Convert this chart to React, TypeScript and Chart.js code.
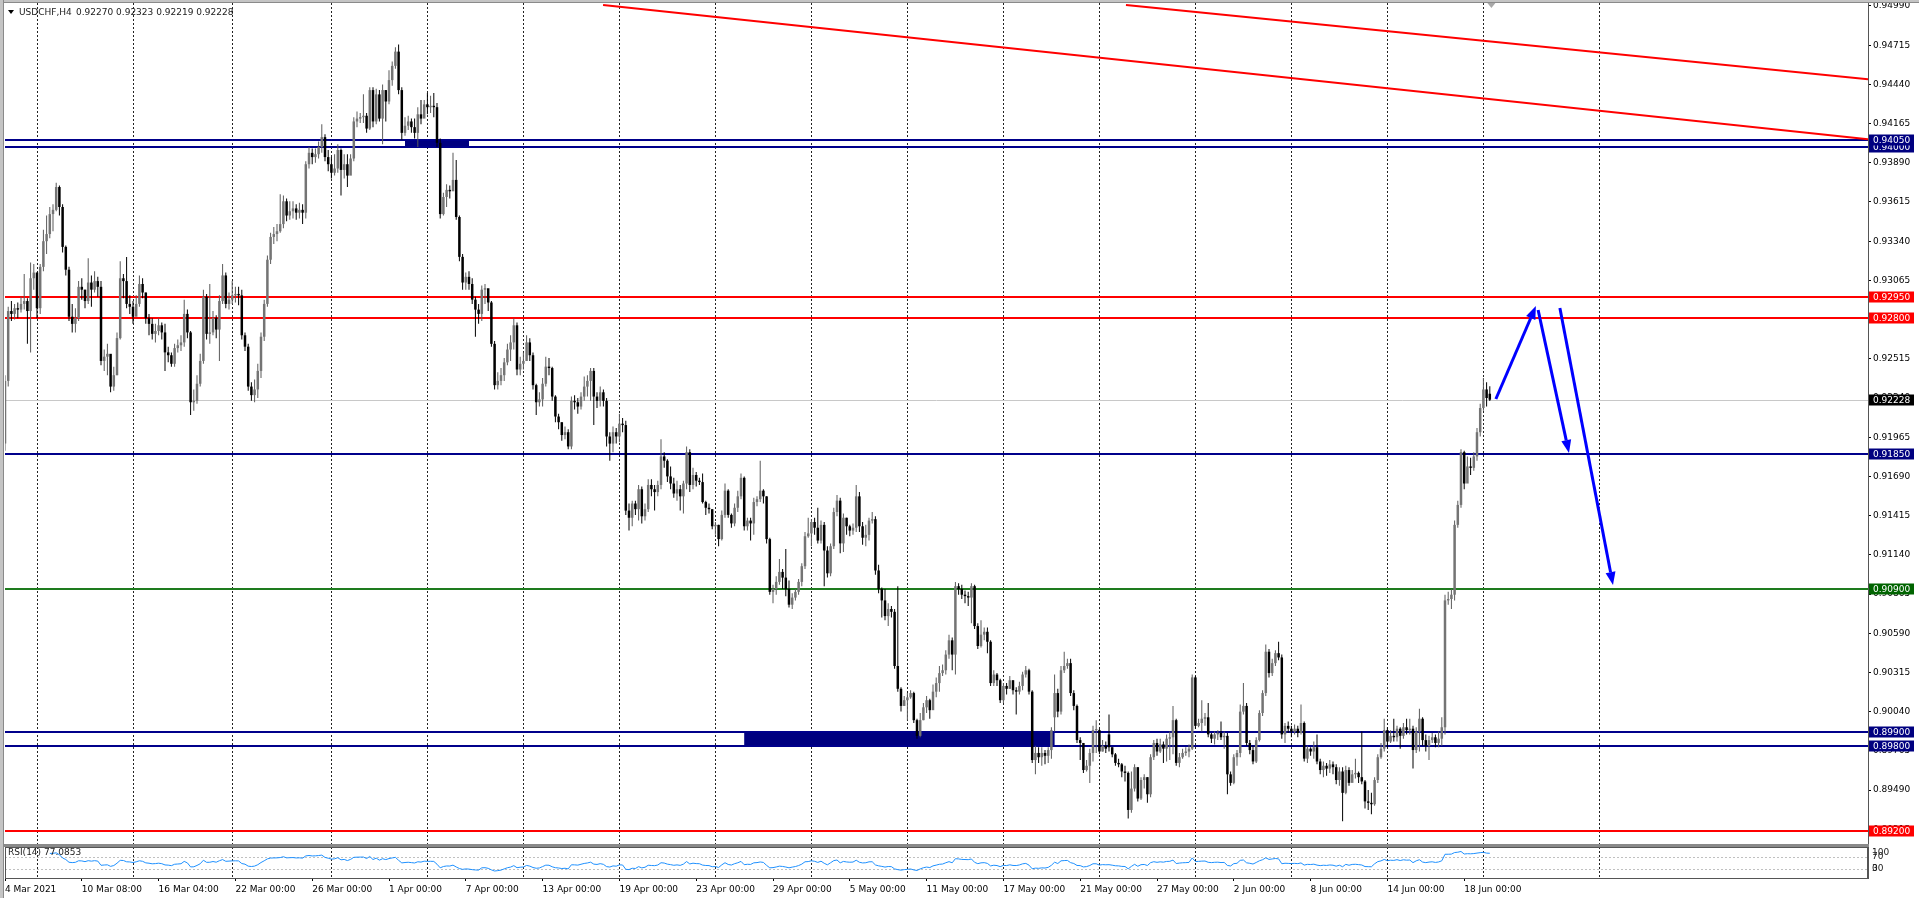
import React, { useEffect, useRef } from "react";
import { Chart, registerables } from "chart.js";
Chart.register(...registerables);

const FONT = '"DejaVu Sans", sans-serif';

const symbolTitle = "USDCHF,H4";
const lastQuotes = ["0.92270", "0.92323", "0.92219", "0.92228"];
const rsiTitle = "RSI(14) 77.0853";
const rsiPeriod = 14;

const xLabelBars = [0, 24, 48, 72, 96, 120, 144, 168, 192, 216, 240, 264, 288, 312, 336, 360, 384, 408, 432, 456];
const xLabels = ["4 Mar 2021", "10 Mar 08:00", "16 Mar 04:00", "22 Mar 00:00", "26 Mar 00:00", "1 Apr 00:00", "7 Apr 00:00", "13 Apr 00:00", "19 Apr 00:00", "23 Apr 00:00", "29 Apr 00:00", "5 May 00:00", "11 May 00:00", "17 May 00:00", "21 May 00:00", "27 May 00:00", "2 Jun 00:00", "8 Jun 00:00", "14 Jun 00:00", "18 Jun 00:00"];
const gridBars = [10, 40, 71, 102, 132, 162, 192, 222, 252, 282, 312, 342, 372, 402, 432, 462, 498];
const yTicks = [0.9499, 0.94715, 0.9444, 0.94165, 0.9389, 0.93615, 0.9334, 0.93065, 0.9279, 0.92515, 0.9224, 0.91965, 0.9169, 0.91415, 0.9114, 0.90865, 0.9059, 0.90315, 0.9004, 0.89765, 0.8949, 0.89215];

// prices in pips (x 0.0001)
const opens = [
9192,9236,9285,9283,9287,9286,9290,9292,9285,9308,
9312,9287,9316,9334,9339,9353,9356,9372,9358,9330,
9314,9281,9276,9280,9302,9300,9292,9305,9300,9306,
9302,9250,9253,9255,9232,9240,9266,9308,9306,9290,
9288,9281,9290,9304,9298,9280,9276,9269,9271,9275,
9270,9256,9254,9248,9259,9261,9263,9283,9270,9221,
9222,9234,9250,9295,9269,9270,9280,9272,9292,9310,
9290,9293,9296,9297,9296,9268,9260,9232,9226,9230,
9243,9267,9290,9321,9337,9339,9341,9346,9362,9352,
9355,9357,9354,9356,9354,9388,9396,9393,9395,9400,
9407,9393,9388,9382,9385,9398,9384,9388,9380,9392,
9418,9420,9421,9422,9413,9440,9418,9437,9420,9440,
9432,9447,9457,9467,9440,9410,9415,9418,9414,9410,
9423,9420,9430,9428,9429,9428,9403,9353,9365,9370,
9369,9377,9351,9323,9305,9309,9304,9293,9286,9283,
9300,9301,9291,9262,9233,9236,9240,9249,9258,9263,
9275,9244,9248,9250,9263,9254,9233,9221,9223,9234,
9246,9245,9225,9211,9207,9198,9200,9190,9222,9221,
9218,9225,9232,9236,9243,9225,9222,9228,9222,9197,
9192,9200,9197,9206,9205,9145,9140,9150,9146,9160,
9141,9146,9163,9160,9158,9163,9183,9180,9169,9164,
9157,9160,9155,9164,9186,9163,9170,9166,9165,9151,
9147,9146,9134,9135,9125,9142,9159,9142,9136,9147,
9155,9168,9134,9138,9136,9151,9153,9159,9155,9125,
9088,9090,9095,9102,9098,9090,9079,9084,9088,9095,
9106,9127,9129,9137,9133,9124,9135,9117,9101,9120,
9144,9152,9122,9140,9134,9131,9133,9155,9134,9126,
9128,9138,9139,9103,9090,9082,9071,9076,9074,9036,
9020,9008,9012,9014,9017,8998,8987,8998,9007,9012,
9005,9018,9024,9031,9033,9044,9054,9044,9092,9090,
9086,9085,9084,9092,9064,9050,9058,9060,9053,9024,
9030,9026,9012,9022,9020,9026,9019,9018,9022,9030,
9033,9018,8970,8975,8972,8975,8973,8977,9000,9017,
9004,9033,9036,9038,9017,9008,8984,8982,8963,8966,
8975,8991,8991,8976,8980,8988,8979,8974,8968,8967,
8962,8961,8935,8950,8965,8943,8956,8958,8946,8972,
8982,8976,8981,8978,8985,8986,8998,8968,8972,8975,
8976,8978,9028,8994,8996,8999,9000,8988,8985,8988,
8989,8986,8987,8960,8954,8972,8975,9004,9008,8982,
8977,8969,8984,9003,9017,9046,9031,9038,9045,9042,
8988,8994,8992,8990,8992,8989,8996,8971,8978,8976,
8979,8969,8963,8966,8964,8967,8965,8956,8962,8947,
8963,8954,8960,8961,8958,8955,8941,8940,8939,8956,
8972,8978,8991,8983,8987,8986,8992,8987,8993,8991,
8992,8977,8990,8999,8984,8980,8984,8986,8982,8985,
8993,9082,9083,9086,9135,9149,9186,9164,9176,9175,
9183,9200,9217,9230,9227
];
const highs = [
9240,9288,9292,9290,9291,9295,9311,9294,9319,9318,
9312,9318,9342,9352,9358,9360,9375,9373,9360,9331,
9316,9290,9287,9306,9308,9300,9322,9310,9313,9309,
9306,9258,9262,9254,9246,9270,9320,9311,9323,9296,
9292,9296,9310,9308,9298,9283,9280,9276,9280,9277,
9276,9260,9256,9262,9265,9268,9293,9286,9271,9230,
9240,9255,9300,9297,9304,9285,9282,9296,9318,9312,
9298,9306,9302,9302,9300,9270,9262,9235,9237,9248,
9270,9293,9324,9340,9344,9346,9367,9366,9364,9362,
9362,9360,9361,9360,9390,9400,9399,9399,9404,9416,
9409,9398,9393,9395,9402,9399,9395,9395,9395,9421,
9425,9424,9437,9424,9442,9442,9441,9440,9444,9440,
9454,9460,9470,9472,9442,9421,9422,9420,9420,9428,
9433,9433,9438,9436,9438,9431,9406,9368,9374,9373,
9396,9391,9352,9325,9312,9313,9308,9295,9290,9303,
9304,9300,9292,9264,9242,9245,9252,9262,9268,9280,
9277,9253,9256,9268,9266,9256,9234,9228,9238,9253,
9252,9246,9226,9213,9207,9204,9202,9225,9226,9224,
9228,9239,9240,9245,9245,9228,9232,9230,9224,9200,
9204,9203,9213,9210,9208,9150,9152,9152,9163,9162,
9150,9167,9167,9163,9166,9195,9186,9181,9176,9168,
9166,9163,9166,9190,9188,9175,9172,9168,9171,9152,
9150,9146,9137,9135,9145,9164,9160,9143,9150,9159,
9171,9169,9140,9140,9154,9155,9180,9160,9155,9126,
9093,9099,9111,9104,9118,9096,9087,9090,9097,9108,
9130,9140,9139,9140,9147,9138,9137,9120,9122,9147,
9156,9154,9143,9140,9135,9136,9163,9158,9137,9135,
9140,9144,9141,9107,9091,9090,9080,9078,9076,9092,
9021,9015,9017,9019,9018,8999,9003,9010,9015,9013,
9023,9028,9036,9037,9047,9058,9056,9095,9094,9093,
9089,9088,9094,9093,9066,9068,9063,9063,9054,9033,
9031,9027,9024,9024,9029,9026,9021,9025,9032,9036,
9034,9019,8980,8979,8979,8977,8979,8993,9030,9020,
9036,9046,9041,9041,9019,9009,8986,8980,8970,8978,
8994,8998,8992,8984,8983,9002,8979,8975,8971,8968,
8966,8962,8962,8967,8965,8958,8960,8958,8974,8984,
8985,8985,8983,8988,8990,9008,8999,8975,8978,8979,
8981,9030,9029,8999,9012,9003,9010,8989,8990,8991,
8997,8990,8989,8962,8974,8977,9009,9024,9010,8984,
8980,8986,9005,9019,9051,9048,9041,9047,9053,9044,
8996,8997,8994,8995,8994,9009,8997,8980,8979,8983,
8988,8971,8969,8968,8970,8969,8967,8965,8965,8966,
8965,8963,8971,8962,8990,8956,8949,8947,8958,8974,
8982,8999,8993,8991,8999,8994,8993,8996,8999,8999,
8994,8993,9006,9000,8988,8987,8989,8988,8990,9000,
9086,9088,9090,9138,9152,9188,9187,9183,9182,9186,
9203,9220,9238,9235,9232.3
];
const lows = [
9187,9232,9278,9279,9280,9284,9286,9262,9256,9300,
9280,9283,9313,9325,9336,9341,9355,9352,9326,9310,
9278,9270,9270,9278,9293,9287,9290,9288,9298,9295,
9247,9243,9240,9228,9229,9240,9265,9294,9287,9283,
9276,9284,9288,9294,9276,9268,9265,9263,9268,9265,
9243,9249,9246,9246,9256,9257,9260,9266,9212,9215,
9220,9232,9248,9265,9262,9268,9266,9250,9290,9287,
9286,9290,9291,9289,9265,9257,9229,9222,9221,9224,
9238,9264,9288,9318,9332,9334,9340,9343,9348,9349,
9350,9349,9350,9346,9350,9385,9388,9389,9392,9396,
9390,9383,9378,9380,9382,9366,9378,9372,9384,9390,
9414,9417,9417,9410,9412,9414,9416,9418,9402,9418,
9430,9443,9455,9437,9405,9408,9412,9410,9406,9400,
9416,9421,9423,9424,9421,9400,9350,9352,9358,9364,
9370,9349,9320,9300,9300,9300,9290,9267,9276,9278,
9290,9285,9260,9230,9230,9233,9236,9247,9250,9258,
9240,9240,9244,9250,9250,9230,9212,9218,9218,9232,
9240,9222,9207,9202,9194,9195,9188,9188,9216,9213,
9216,9222,9225,9222,9205,9217,9218,9218,9190,9180,
9186,9192,9193,9200,9142,9131,9134,9142,9138,9136,
9138,9144,9155,9145,9155,9160,9175,9165,9160,9154,
9152,9145,9143,9160,9158,9160,9162,9163,9150,9142,
9143,9132,9128,9120,9124,9140,9140,9133,9134,9144,
9153,9131,9131,9124,9128,9148,9151,9150,9122,9086,
9080,9086,9093,9090,9085,9077,9076,9082,9086,9092,
9104,9126,9120,9128,9122,9122,9092,9098,9099,9118,
9141,9115,9116,9128,9127,9128,9130,9130,9121,9120,
9124,9136,9100,9087,9070,9068,9064,9070,9034,9018,
9004,9008,8998,9013,8996,8985,8986,8998,9003,8999,
9006,9014,9018,9029,9030,9041,9033,9030,9086,9083,
9080,9078,9066,9062,9048,9049,9054,9045,9022,9022,
9022,9010,9010,9016,9020,9016,9002,9016,9019,9028,
9016,8968,8960,8968,8966,8967,8968,8971,8990,9000,
9002,9031,9034,9015,9005,8982,8970,8961,8962,8954,
8969,8975,8974,8976,8975,8976,8972,8966,8965,8958,
8955,8929,8933,8948,8941,8942,8950,8940,8944,8970,
8973,8975,8968,8969,8970,8974,8966,8965,8971,8973,
8972,8977,8992,8993,8990,8994,8986,8982,8981,8984,
8984,8978,8946,8952,8953,8966,8972,9002,8980,8974,
8967,8968,8983,9001,9015,9028,9029,9036,9040,8985,
8982,8989,8986,8988,8986,8988,8969,8968,8973,8971,
8967,8960,8958,8959,8961,8960,8953,8952,8927,8946,
8952,8955,8957,8954,8953,8936,8935,8932,8938,8954,
8971,8976,8979,8982,8983,8983,8978,8985,8988,8988,
8964,8975,8976,8980,8976,8970,8982,8979,8979,8980,
8988,9079,9076,9082,9133,9147,9160,9165,9170,9173,
9180,9197,9215,9218,9221.9
];
const closes = [
9236,9285,9283,9287,9286,9290,9292,9285,9308,9312,
9287,9316,9334,9339,9353,9356,9372,9358,9330,9314,
9281,9276,9280,9302,9300,9292,9305,9300,9306,9302,
9250,9253,9255,9232,9240,9266,9308,9306,9290,9288,
9281,9290,9304,9298,9280,9276,9269,9271,9275,9270,
9256,9254,9248,9259,9261,9263,9283,9270,9221,9222,
9234,9250,9295,9269,9270,9280,9272,9292,9310,9290,
9293,9296,9297,9296,9268,9260,9232,9226,9230,9243,
9267,9290,9321,9337,9339,9341,9346,9362,9352,9355,
9357,9354,9356,9354,9388,9396,9393,9395,9400,9407,
9393,9388,9382,9385,9398,9384,9388,9380,9392,9418,
9420,9421,9422,9413,9440,9418,9437,9420,9440,9432,
9447,9457,9467,9440,9410,9415,9418,9414,9410,9423,
9420,9430,9428,9429,9428,9403,9353,9365,9370,9369,
9377,9351,9323,9305,9309,9304,9293,9286,9283,9300,
9301,9291,9262,9233,9236,9240,9249,9258,9263,9275,
9244,9248,9250,9263,9254,9233,9221,9223,9234,9246,
9245,9225,9211,9207,9198,9200,9190,9222,9221,9218,
9225,9232,9236,9243,9225,9222,9228,9222,9197,9192,
9200,9197,9206,9205,9145,9140,9150,9146,9160,9141,
9146,9163,9160,9158,9163,9183,9180,9169,9164,9157,
9160,9155,9164,9186,9163,9170,9166,9165,9151,9147,
9146,9134,9135,9125,9142,9159,9142,9136,9147,9155,
9168,9134,9138,9136,9151,9153,9159,9155,9125,9088,
9090,9095,9102,9098,9090,9079,9084,9088,9095,9106,
9127,9129,9137,9133,9124,9135,9117,9101,9120,9144,
9152,9122,9140,9134,9131,9133,9155,9134,9126,9128,
9138,9139,9103,9090,9082,9071,9076,9074,9036,9020,
9008,9012,9014,9017,8998,8987,8998,9007,9012,9005,
9018,9024,9031,9033,9044,9054,9044,9092,9090,9086,
9085,9084,9092,9064,9050,9058,9060,9053,9024,9030,
9026,9012,9022,9020,9026,9019,9018,9022,9030,9033,
9018,8970,8975,8972,8975,8973,8977,8991,9017,9004,
9033,9036,9038,9017,9008,8984,8982,8963,8966,8975,
8991,8991,8976,8980,8978,8979,8974,8968,8967,8962,
8961,8935,8950,8965,8943,8956,8958,8946,8972,8982,
8976,8981,8978,8985,8986,8998,8968,8972,8975,8976,
8978,9028,8994,8996,8999,9000,8988,8985,8988,8989,
8986,8987,8960,8954,8972,8975,9004,9008,8982,8977,
8969,8984,9003,9017,9046,9031,9038,9045,9042,8988,
8994,8992,8990,8992,8989,8996,8971,8978,8976,8979,
8969,8963,8966,8964,8967,8965,8956,8962,8947,8963,
8954,8960,8961,8958,8955,8941,8940,8939,8956,8972,
8978,8991,8983,8987,8986,8992,8987,8993,8991,8992,
8977,8990,8999,8984,8980,8984,8986,8982,8985,8993,
9082,9083,9086,9135,9149,9186,9164,9176,9175,9183,
9200,9217,9230,9224,9222.8
];

const levelPrices = [0.9405, 0.94, 0.9295, 0.928, 0.9185, 0.909, 0.899, 0.898, 0.892];
const levelColors = ["#00008b", "#00008b", "#ff0000", "#ff0000", "#00008b", "#1e7b1e", "#00008b", "#00008b", "#ff0000"];
const levelBoxColors = ["#000080", "#000080", "#ff0000", "#ff0000", "#000080", "#006400", "#000080", "#000080", "#ff0000"];
const bidPrice = 0.92228;

const rectStartBars = [125, 231];
const rectEndBars = [145, 328];
const rectLows = [0.94, 0.898];
const rectHighs = [0.9405, 0.899];

const trendStartBars = [186.9, 350.3];
const trendStartPrices = [0.94997, 0.94997];
const trendEndBars = [582.2, 582.2];
const trendEndPrices = [0.94055, 0.94476];

const arrowStartBars = [465.9, 479.1, 485.9];
const arrowStartPrices = [0.92233, 0.92857, 0.92871];
const arrowEndBars = [478.4, 488.75, 502.5];
const arrowEndPrices = [0.92885, 0.91854, 0.90928];

const rsiLevels = [70, 30];
const rsiAxisLabels = [100, 70, 30, 0];
const shiftMarkerBar = 464.5;

const X_MIN = 0;
const X_MAX = 582.1875;
const Y_MIN = 0.891112;
const Y_MAX = 0.95011;

function computeRsi(src: number[], period: number) {
  const out: any[] = [];
  let g = 0, l = 0;
  for (let i = 1; i <= period; i++) {
    const d = src[i] - src[i - 1];
    if (d > 0) g += d; else l -= d;
  }
  let ag = g / period, al = l / period;
  out.push({ x: period, y: al === 0 ? 100 : 100 - 100 / (1 + ag / al) });
  for (let i = period + 1; i < src.length; i++) {
    const d = src[i] - src[i - 1];
    ag = (ag * (period - 1) + Math.max(d, 0)) / period;
    al = (al * (period - 1) + Math.max(-d, 0)) / period;
    out.push({ x: i, y: al === 0 ? 100 : 100 - 100 / (1 + ag / al) });
  }
  return out;
}

function drawArrow(ctx: any, x1: number, y1: number, x2: number, y2: number) {
  const ang = Math.atan2(y2 - y1, x2 - x1);
  const hl = 13, hw = 5;
  const bx = x2 - hl * Math.cos(ang), by = y2 - hl * Math.sin(ang);
  ctx.beginPath();
  ctx.moveTo(x1, y1);
  ctx.lineTo(bx, by);
  ctx.stroke();
  ctx.beginPath();
  ctx.moveTo(x2, y2);
  ctx.lineTo(bx + hw * Math.sin(ang), by - hw * Math.cos(ang));
  ctx.lineTo(bx - hw * Math.sin(ang), by + hw * Math.cos(ang));
  ctx.closePath();
  ctx.fill();
}

const mainPlugin = {
  id: "mt4main",
  beforeDatasetsDraw(chart: any) {
    const { ctx, chartArea: a, scales } = chart;
    const x = scales.x, y = scales.y;
    ctx.save();
    ctx.beginPath();
    ctx.rect(a.left, a.top, a.right - a.left, a.bottom - a.top);
    ctx.clip();
    ctx.lineWidth = 1;
    ctx.strokeStyle = "#222";
    ctx.setLineDash([2, 2]);
    gridBars.forEach((b) => {
      const px = Math.round(x.getPixelForValue(b)) + 0.5;
      ctx.beginPath();
      ctx.moveTo(px, a.top);
      ctx.lineTo(px, a.bottom);
      ctx.stroke();
    });
    ctx.setLineDash([]);
    // bid line
    ctx.strokeStyle = "#c8c8c8";
    const by = Math.round(y.getPixelForValue(bidPrice)) + 0.5;
    ctx.beginPath();
    ctx.moveTo(a.left, by);
    ctx.lineTo(a.right, by);
    ctx.stroke();
    // rectangles
    ctx.fillStyle = "#000080";
    rectStartBars.forEach((b, i) => {
      const x0 = x.getPixelForValue(b), x1 = x.getPixelForValue(rectEndBars[i]);
      const y0 = y.getPixelForValue(rectHighs[i]), y1 = y.getPixelForValue(rectLows[i]);
      ctx.fillRect(x0, y0, x1 - x0, y1 - y0);
    });
    // horizontal levels
    levelPrices.forEach((p, i) => {
      const py = Math.round(y.getPixelForValue(p));
      ctx.strokeStyle = levelColors[i];
      ctx.lineWidth = 2;
      ctx.beginPath();
      ctx.moveTo(a.left, py);
      ctx.lineTo(a.right, py);
      ctx.stroke();
    });
    ctx.restore();
  },
  afterDatasetsDraw(chart: any) {
    const { ctx, chartArea: a, scales } = chart;
    const x = scales.x, y = scales.y;
    ctx.save();
    ctx.beginPath();
    ctx.rect(a.left, a.top, a.right - a.left, a.bottom - a.top);
    ctx.clip();
    ctx.strokeStyle = "#ff0000";
    ctx.lineWidth = 2;
    trendStartBars.forEach((b, i) => {
      ctx.beginPath();
      ctx.moveTo(x.getPixelForValue(b), y.getPixelForValue(trendStartPrices[i]));
      ctx.lineTo(x.getPixelForValue(trendEndBars[i]), y.getPixelForValue(trendEndPrices[i]));
      ctx.stroke();
    });
    ctx.strokeStyle = "#0000ff";
    ctx.fillStyle = "#0000ff";
    ctx.lineWidth = 3;
    arrowStartBars.forEach((b, i) => {
      drawArrow(ctx, x.getPixelForValue(b), y.getPixelForValue(arrowStartPrices[i]),
        x.getPixelForValue(arrowEndBars[i]), y.getPixelForValue(arrowEndPrices[i]));
    });
    // chart shift marker
    const sx = x.getPixelForValue(shiftMarkerBar);
    ctx.fillStyle = "#a8a8a8";
    ctx.beginPath();
    ctx.moveTo(sx - 4, a.top);
    ctx.lineTo(sx + 4, a.top);
    ctx.lineTo(sx, a.top + 5);
    ctx.closePath();
    ctx.fill();
    ctx.restore();
  },
  afterDraw(chart: any) {
    const { ctx, chartArea: a, scales } = chart;
    const y = scales.y;
    ctx.save();
    ctx.font = `9px ${FONT}`;
    ctx.textBaseline = "middle";
    ctx.textAlign = "left";
    const box = (p: number, bg: string) => {
      const py = Math.round(y.getPixelForValue(p));
      ctx.fillStyle = bg;
      ctx.fillRect(a.right + 1, py - 5.5, 45, 11);
      ctx.fillStyle = "#fff";
      ctx.fillText(p.toFixed(5), a.right + 5, py + 0.5);
    };
    for (let i = levelPrices.length - 1; i >= 0; i--) box(levelPrices[i], levelBoxColors[i]);
    box(bidPrice, "#000");
    // header
    ctx.fillStyle = "#000";
    ctx.beginPath();
    ctx.moveTo(8, 10);
    ctx.lineTo(14, 10);
    ctx.lineTo(11, 14);
    ctx.closePath();
    ctx.fill();
    ctx.fillStyle = "#1a1a1a";
    ctx.fillText(symbolTitle, 19, 12.5);
    ctx.fillText(lastQuotes.join(" "), 76, 12.5);
    ctx.restore();
  },
};

const rsiPlugin = {
  id: "mt4rsi",
  beforeDatasetsDraw(chart: any) {
    const { ctx, chartArea: a, scales } = chart;
    const x = scales.x, y = scales.y;
    ctx.save();
    ctx.lineWidth = 1;
    ctx.strokeStyle = "#222";
    ctx.setLineDash([2, 2]);
    gridBars.forEach((b) => {
      const px = Math.round(x.getPixelForValue(b)) + 0.5;
      ctx.beginPath();
      ctx.moveTo(px, a.top);
      ctx.lineTo(px, a.bottom);
      ctx.stroke();
    });
    ctx.strokeStyle = "#c0c0c0";
    ctx.setLineDash([2, 2]);
    rsiLevels.forEach((v) => {
      const py = Math.round(y.getPixelForValue(v)) + 0.5;
      ctx.beginPath();
      ctx.moveTo(a.left, py);
      ctx.lineTo(a.right, py);
      ctx.stroke();
    });
    ctx.restore();
  },
  afterDraw(chart: any) {
    const { ctx, chartArea: a, scales } = chart;
    const y = scales.y;
    ctx.save();
    ctx.strokeStyle = "#555";
    ctx.lineWidth = 1;
    ctx.strokeRect(a.left + 0.5, a.top + 0.5, a.right - a.left - 1, a.bottom - a.top);
    ctx.font = `9px ${FONT}`;
    ctx.textBaseline = "middle";
    ctx.fillStyle = "#1a1a1a";
    ctx.fillText(rsiTitle, 8, a.top + 6);
    rsiAxisLabels.forEach((v) => {
      const py = Math.min(Math.max(y.getPixelForValue(v), a.top + 6), a.bottom - 9);
      ctx.fillText(String(v), a.right + 4, py);
    });
    ctx.restore();
  },
};

export default function App() {
  const mainRef = useRef<HTMLCanvasElement>(null);
  const rsiRef = useRef<HTMLCanvasElement>(null);

  useEffect(() => {
    document.body.style.margin = "0";
    const wicks = lows.map((l, i) => ({ x: i, y: [l / 10000, highs[i] / 10000] }));
    const bodies = opens.map((o, i) => ({ x: i, y: [o / 10000, closes[i] / 10000] }));
    const bodyColors = opens.map((o, i) => (closes[i] >= o ? "#747474" : "#000000"));
    const wickColors = opens.map((o, i) => (closes[i] >= o ? "#5a5a5a" : "#000000"));
    const tickFont = { family: FONT, size: 9 };
    const noPadY = (s: any) => { s.width = 51; s.paddingTop = 0; s.paddingBottom = 0; };

    const main = new Chart(mainRef.current as any, {
      type: "bar",
      data: {
        datasets: [
          { data: wicks as any, backgroundColor: wickColors, barThickness: 1, grouped: false, order: 2, inflateAmount: 0 } as any,
          { data: bodies as any, backgroundColor: bodyColors, barThickness: 2.5, minBarLength: 1, grouped: false, order: 1, inflateAmount: 0 } as any,
        ],
      },
      options: {
        responsive: false,
        animation: false,
        devicePixelRatio: 1,
        events: [],
        layout: { padding: { left: 5, top: 3, right: 0, bottom: 0 } },
        plugins: { legend: { display: false }, tooltip: { enabled: false } },
        scales: {
          x: { type: "linear", min: X_MIN, max: X_MAX, offset: false, display: false },
          y: {
            type: "linear",
            position: "right",
            min: Y_MIN,
            max: Y_MAX,
            afterBuildTicks: (s: any) => { s.ticks = yTicks.map((v) => ({ value: v })); },
            afterFit: noPadY,
            ticks: { font: tickFont, color: "#000", padding: 2, callback: (v: any) => Number(v).toFixed(5) },
            grid: { drawOnChartArea: false, tickLength: 3, color: "#000" },
            border: { color: "#555" },
          },
        } as any,
      },
      plugins: [mainPlugin],
    } as any);

    const rsi = new Chart(rsiRef.current as any, {
      type: "line",
      data: {
        datasets: [
          { data: computeRsi(closes, rsiPeriod), borderColor: "#1e90ff", borderWidth: 1, pointRadius: 0, tension: 0 } as any,
        ],
      },
      options: {
        responsive: false,
        animation: false,
        devicePixelRatio: 1,
        events: [],
        layout: { padding: { left: 5, top: 0, right: 0, bottom: 0 } },
        plugins: { legend: { display: false }, tooltip: { enabled: false } },
        scales: {
          x: {
            type: "linear",
            min: X_MIN,
            max: X_MAX,
            offset: false,
            afterBuildTicks: (s: any) => { s.ticks = xLabelBars.map((v) => ({ value: v })); },
            afterFit: (s: any) => { s.height = 20; s.paddingLeft = 0; s.paddingRight = 0; },
            ticks: { align: "start", maxRotation: 0, autoSkip: false, font: tickFont, color: "#000", padding: 3, callback: (_v: any, i: number) => xLabels[i] },
            grid: { drawOnChartArea: false, tickLength: 3, color: "#000" },
            border: { color: "#555" },
          },
          y: {
            type: "linear",
            position: "right",
            min: -2,
            max: 103,
            afterFit: noPadY,
            ticks: { display: false },
            grid: { display: false },
            border: { color: "#555" },
          },
        } as any,
      },
      plugins: [rsiPlugin],
    } as any);

    return () => {
      main.destroy();
      rsi.destroy();
    };
  }, []);

  return (
    <div style={{ position: "fixed", left: 0, top: 0, width: 1919, height: 898, background: "#fff", overflow: "hidden" }}>
      <canvas ref={mainRef} width={1919} height={844} style={{ position: "absolute", left: 0, top: 0, width: 1919, height: 844 }} />
      <div style={{ position: "absolute", left: 3, top: 844, width: 1866, height: 3, background: "#8a8a8a" }} />
      <canvas ref={rsiRef} width={1919} height={51} style={{ position: "absolute", left: 0, top: 847, width: 1919, height: 51 }} />
      <div style={{ position: "absolute", left: 0, top: 0, width: 1919, height: 2, background: "#c4c4c4", borderBottom: "1px solid #8a8a8a" }} />
      <div style={{ position: "absolute", left: 0, top: 0, width: 3, height: 898, background: "#c4c4c4", borderRight: "1px solid #8a8a8a" }} />
    </div>
  );
}
